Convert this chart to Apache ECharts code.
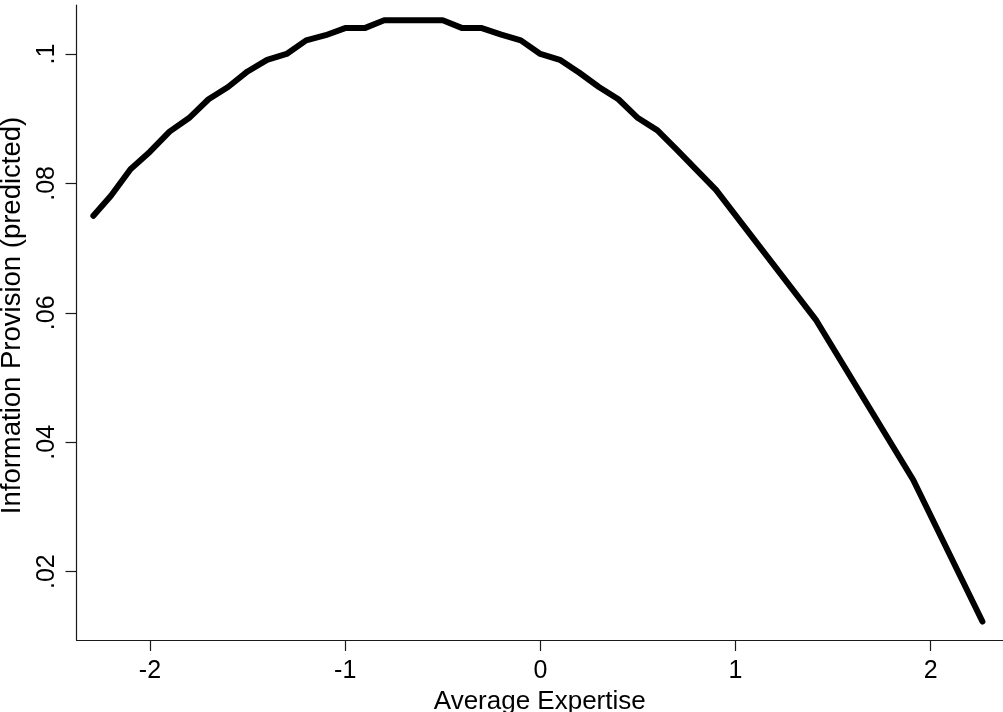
<!DOCTYPE html>
<html>
<head>
<meta charset="utf-8">
<script src="https://cdn.jsdelivr.net/npm/echarts@6/dist/echarts.min.js"></script>
<style>
html,body{margin:0;padding:0;background:#fff;}
#chart{width:1003px;height:712px;}
</style>
</head>
<body>
<div id="chart"></div>
<script>
const xValues = [-2.29,-2.2,-2.1,-2.0,-1.9,-1.8,-1.7,-1.6,-1.5,-1.4,-1.3,-1.2,-1.1,-1.0,-0.9,-0.8,-0.7,-0.6,-0.5,-0.4,-0.3,-0.2,-0.1,0,0.1,0.2,0.3,0.4,0.5,0.6,0.7,0.8,0.9,1.41,1.91,2.265];
const yValues = [0.0750,0.0781,0.0822,0.0849,0.0880,0.0901,0.0930,0.0949,0.0973,0.0991,0.1000,0.1021,0.1029,0.1040,0.1040,0.1052,0.1052,0.1052,0.1052,0.1040,0.1040,0.1030,0.1021,0.1000,0.0991,0.0971,0.0949,0.0930,0.0901,0.0882,0.0852,0.0821,0.0790,0.0590,0.0342,0.0123];
const xTickValues = [-2,-1,0,1,2];
const xTickLabels = ['-2','-1','0','1','2'];
const yTickValues = [0.02,0.04,0.06,0.08,0.1];
const yTickLabels = ['.02','.04','.06','.08','.1'];
const xTitle = 'Average Expertise';
const yTitle = 'Information Provision (predicted)';

const seriesData = xValues.map((x, i) => [x, yValues[i]]);
const FONT = '"Liberation Sans", Arial, sans-serif';
function lab(vals, labels, v) {
  for (let i = 0; i < vals.length; i++) if (Math.abs(vals[i] - v) < 1e-9) return labels[i];
  return '';
}
const chart = echarts.init(document.getElementById('chart'), null, {renderer: 'canvas'});
chart.setOption({
  animation: false,
  backgroundColor: '#ffffff',
  grid: {left: 76.5, right: 0, top: 5, bottom: 72, containLabel: false, outerBoundsMode: 'none'},
  xAxis: {
    type: 'value',
    min: -2.3765, max: 2.3704,
    name: xTitle, nameLocation: 'middle', nameGap: 44,
    nameTextStyle: {fontFamily: FONT, fontSize: 26, color: '#000'},
    axisLine: {show: true, onZero: false, lineStyle: {color: '#1a1a1a', width: 1.2}},
    axisTick: {show: true, customValues: xTickValues, length: 11, lineStyle: {color: '#1a1a1a', width: 1.2}},
    axisLabel: {customValues: xTickValues, fontFamily: FONT, fontSize: 25, color: '#000', margin: 19,
      formatter: v => lab(xTickValues, xTickLabels, v)},
    splitLine: {show: false}
  },
  yAxis: {
    type: 'value',
    min: 0.009444, max: 0.10757,
    name: yTitle, nameLocation: 'middle', nameGap: 46, nameRotate: 90,
    nameTextStyle: {fontFamily: FONT, fontSize: 27.5, color: '#000', padding: [0, 0, 0, 14]},
    axisLine: {show: true, onZero: false, lineStyle: {color: '#1a1a1a', width: 1.2}},
    axisTick: {show: true, customValues: yTickValues, length: 11, lineStyle: {color: '#1a1a1a', width: 1.2}},
    axisLabel: {customValues: yTickValues, rotate: 90, fontFamily: FONT, fontSize: 25, color: '#000', margin: 17,
      formatter: v => lab(yTickValues, yTickLabels, v)},
    splitLine: {show: false}
  },
  series: [{
    type: 'line',
    data: seriesData,
    showSymbol: false,
    symbol: 'none',
    lineStyle: {color: '#000', width: 6, cap: 'round', join: 'round'}
  }]
});
</script>
</body>
</html>
